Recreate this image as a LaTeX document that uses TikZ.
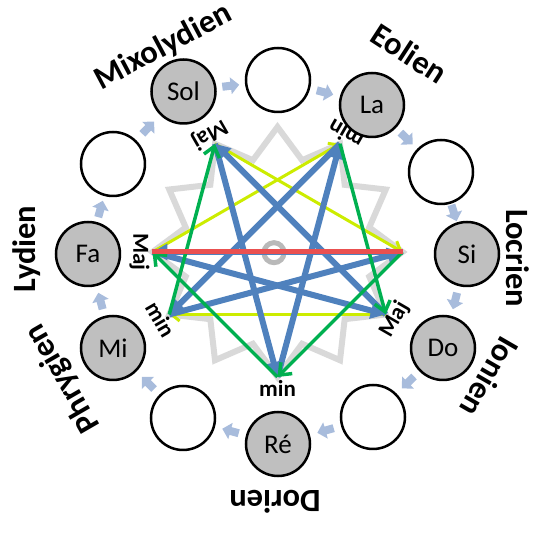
\documentclass[tikz,border=0pt]{standalone}
\usepackage{fontspec}
\setmainfont{Carlito}
\usetikzlibrary{arrows.meta,calc}
\definecolor{notegray}{RGB}{191,191,191}
\definecolor{stargray}{RGB}{217,217,217}
\definecolor{ogray}{RGB}{185,185,185}
\definecolor{blueline}{RGB}{79,129,189}
\definecolor{greenline}{RGB}{0,176,80}
\definecolor{yelline}{RGB}{204,236,0}
\definecolor{redline}{RGB}{234,80,80}
\definecolor{arrowblue}{RGB}{168,188,220}
\begin{document}
\begin{tikzpicture}[x=1pt,y=1pt,
  note/.style={circle,draw=black,line width=2.5pt,fill=notegray,minimum size=64pt,inner sep=0pt,font=\fontsize{27}{31}\selectfont},
  blank/.style={note,fill=white},
  mode/.style={font=\bfseries\fontsize{32.5}{36}\selectfont,inner sep=0pt},
  qual/.style={font=\bfseries\fontsize{23}{26}\selectfont,inner sep=0pt},
  starline/.style={draw=stargray,line width=6pt,line join=miter},
  fifth/.style={draw=blueline,line width=6pt,-{Triangle[length=15pt,width=16pt]}},
  minthird/.style={draw=greenline,line width=3.5pt,-{Straight Barb[length=10pt,width=16pt]}},
  majthird/.style={draw=yelline,line width=3pt,-{Straight Barb[length=8pt,width=13pt]}},
  tritone/.style={draw=redline,line width=5pt},
  blk/.pic={\fill[arrowblue] (-8.5,-4) -- (0,-4) -- (0,-8.5) -- (8.5,0) -- (0,8.5) -- (0,4) -- (-8.5,4) -- cycle;}
]
\useasboundingbox (-277.5,-282) rectangle (276.5,252);

% gray twelve-pointed star
\draw[starline] (90:125) \foreach \k in {0,...,10} { -- ({75-30*\k}:95) -- ({60-30*\k}:125) } -- (-255:95) -- cycle;
\node[circle,draw=ogray,line width=5pt,minimum size=20pt,inner sep=0pt] (o) at (-3.5,-0.7) {};

% vertices
\coordinate (vSol) at (120:125);
\coordinate (vLa) at (60:125);
\coordinate (vSi) at (0:125);
\coordinate (vDo) at (-30:125);
\coordinate (vRe) at (-90:125);
\coordinate (vMi) at (-150:125);
\coordinate (vFa) at (180:125);

% major thirds
\draw[majthird] (vFa) -- (vLa);
\draw[majthird] (vSol) -- (vSi);
\draw[majthird] (vDo) -- (vMi);
% fifths
\draw[fifth] (vFa) -- (vDo);
\draw[fifth] (vDo) -- (vSol);
\draw[fifth] (vSol) -- (vRe);
\draw[fifth] (vRe) -- (vLa);
\draw[fifth] (vLa) -- (vMi);
\draw[fifth] (vMi) -- (vSi);
\draw[fifth] (vSi) -- (vFa);
% minor thirds
\draw[minthird] (vMi) -- (vSol);
\draw[minthird] (vLa) -- (vDo);
\draw[minthird] (vSi) -- (vRe);
\draw[minthird] (vRe) -- (vFa);
% tritone
\draw[tritone] (vFa) -- (vSi);

% chord qualities
\node[qual,rotate=210] (qSol) at (120:136) {Maj};
\node[qual,rotate=150] (qLa) at (60:136) {min};
\node[qual,rotate=270] (qFa) at (180:138) {Maj};
\node[qual,rotate=300] (qMi) at (210:135) {min};
\node[qual] (qRe) at (270:136) {min};
\node[qual,rotate=60] (qDo) at (-30:135) {Maj};

% note circles
\node[note] (Sol) at (-94,160.5) {Sol};
\node[blank] (T) at (0.5,172) {};
\node[note] (La) at (94.5,147) {La};
\node[blank] (UR) at (163.5,80) {};
\node[note] (Si) at (189.5,-2) {Si};
\node[note] (Do) at (165.5,-96) {Do};
\node[blank] (LR) at (95.5,-165) {};
\node[note] (Re) at (0.5,-192) {Ré};
\node[blank] (LL) at (-94.5,-166) {};
\node[note] (Mi) at (-164.5,-96) {Mi};
\node[note] (Fa) at (-189.5,-2) {Fa};
\node[blank] (UL) at (-164.5,88) {};

% small arrows between circles
\foreach \a/\b in {Sol/T,T/La,La/UR,UR/Si,Si/Do,Do/LR,LR/Re,Re/LL,LL/Mi,Mi/Fa,Fa/UL,UL/Sol}{
  \path let \p1=($(\b)-(\a)$), \n1={atan2(\y1,\x1)} in pic[rotate=\n1] at ($(\a)!0.5!(\b)$) {blk};
}

% mode names
\node[mode,rotate=28] (mMix) at (-114,205) {Mixolydien};
\node[mode,rotate=-33] (mEol) at (132,198.5) {Eolien};
\node[mode,rotate=-90] (mLoc) at (240,-6) {Locrien};
\node[mode,rotate=-120] (mIon) at (212.5,-125) {Ionien};
\node[mode,rotate=180] (mDor) at (-2.5,-250) {Dorien};
\node[mode,rotate=120] (mPhr) at (-214.5,-126) {Phrygien};
\node[mode,rotate=90] (mLyd) at (-251,3) {Lydien};
\end{tikzpicture}
\end{document}
